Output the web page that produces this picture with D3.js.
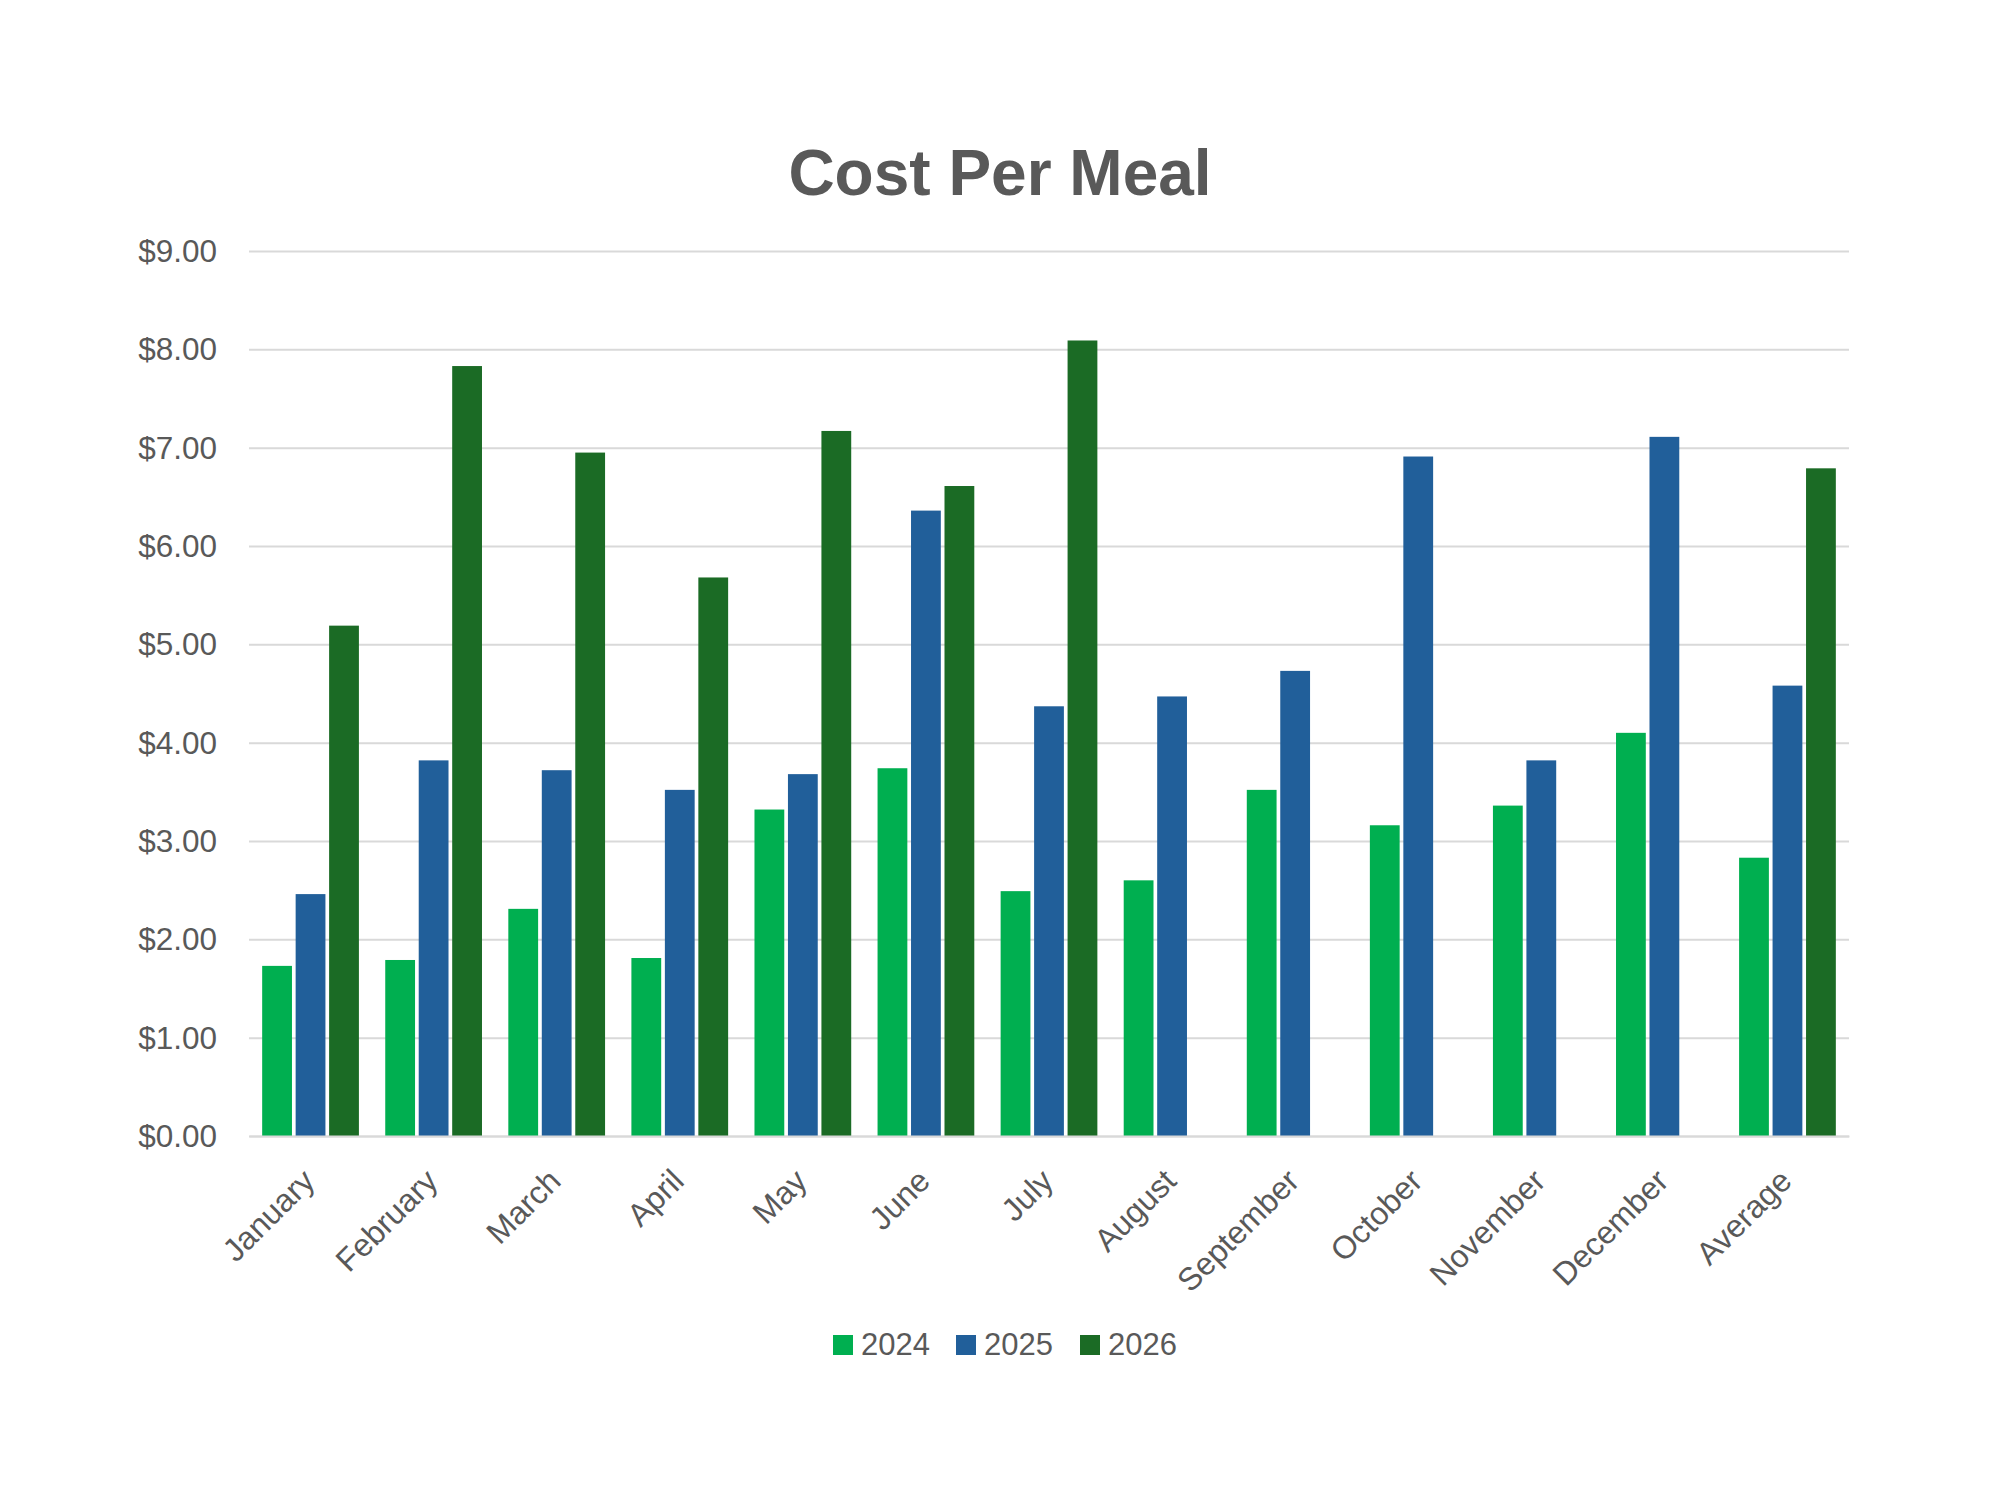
<!DOCTYPE html>
<html>
<head>
<meta charset="utf-8">
<script src="https://cdn.jsdelivr.net/npm/d3@7"></script>
<style>
  body { margin: 0; background: #ffffff; }
  text { font-family: "Liberation Sans", Arial, sans-serif; fill: #595959; }
</style>
</head>
<body>
<div id="chart"></div>
<script>
var months = ["January", "February", "March", "April", "May", "June", "July",
    "August", "September", "October", "November", "December", "Average"];

var years = ["2024", "2025", "2026"];

var cost2024 = [1.73, 1.79, 2.31, 1.81, 3.32, 3.74, 2.49, 2.60, 3.52, 3.16, 3.36, 4.10, 2.83];
var cost2025 = [2.46, 3.82, 3.72, 3.52, 3.68, 6.36, 4.37, 4.47, 4.73, 6.91, 3.82, 7.11, 4.58];
var cost2026 = [5.19, 7.83, 6.95, 5.68, 7.17, 6.61, 8.09, null, null, null, null, null, 6.79];

var yTicks = [0, 1, 2, 3, 4, 5, 6, 7, 8, 9];

var colors = ["#00af50", "#215f9a", "#1b6b25"];

var svgWidth = 2000;
var svgHeight = 1500;

var margin = {
    top: 251,
    right: 151,
    bottom: 364,
    left: 249
}

var width = svgWidth - margin.left - margin.right;
var height = svgHeight - margin.top - margin.bottom;

var svg = d3.select("#chart")
    .append("svg")
    .attr("width", svgWidth)
    .attr("height", svgHeight);

svg.append("rect")
    .attr("width", svgWidth)
    .attr("height", svgHeight)
    .attr("fill", "#ffffff");

var chartGroup = svg.append("g")
    .attr("transform", `translate(${margin.left}, ${margin.top})`);

// one row per month, one value per year
var series = [cost2024, cost2025, cost2026];
var rows = months.map(function(m, i) {
    return years.map(function(y, j) {
        return { month: m, year: y, value: series[j][i] };
    });
});

var x0 = d3.scaleBand()
    .domain(months)
    .range([0, width])
    .paddingInner(0.214)
    .paddingOuter(0.107);

var x1 = d3.scaleBand()
    .domain(years)
    .range([0, x0.bandwidth()])
    .paddingInner(0.11);

var y = d3.scaleLinear()
    .domain([0, 9])
    .range([height, 0]);

var color = d3.scaleOrdinal()
    .domain(years)
    .range(colors);

// gridlines
var yAxis = chartGroup.append("g")
    .call(d3.axisLeft(y)
        .tickValues(yTicks)
        .tickSize(-width)
        .tickPadding(32)
        .tickFormat(d3.format("$.2f")));

yAxis.select(".domain").remove();
yAxis.selectAll(".tick line")
    .attr("stroke", "#d9d9d9")
    .attr("stroke-width", 2);
yAxis.selectAll(".tick text")
    .attr("font-size", "31.5px")
    .attr("fill", "#595959")
    .attr("dy", "0.33em")
    .style("font-family", "'Liberation Sans', Arial, sans-serif");

// bars
var groups = chartGroup.selectAll(".month")
    .data(rows)
    .enter()
    .append("g")
    .attr("class", "month")
    .attr("transform", (d, i) => `translate(${x0(months[i])}, 0)`);

groups.selectAll("rect")
    .data(d => d.filter(v => v.value != null))
    .enter()
    .append("rect")
    .attr("x", d => x1(d.year))
    .attr("y", d => y(d.value))
    .attr("width", x1.bandwidth())
    .attr("height", d => height - y(d.value))
    .attr("fill", d => color(d.year));

// x axis
var xAxis = chartGroup.append("g")
    .attr("transform", `translate(0, ${height})`)
    .call(d3.axisBottom(x0).tickSize(0).tickPadding(0));

xAxis.select(".domain")
    .attr("stroke", "#d9d9d9")
    .attr("stroke-width", 2);

xAxis.selectAll(".tick text")
    .attr("font-size", "32px")
    .attr("fill", "#595959")
    .attr("text-anchor", "end")
    .attr("dy", null)
    .attr("y", 0)
    .attr("transform", "translate(6, 47) rotate(-45)")
    .style("font-family", "'Liberation Sans', Arial, sans-serif");

// title
svg.append("text")
    .attr("x", 1000)
    .attr("y", 195)
    .attr("text-anchor", "middle")
    .attr("font-size", "64px")
    .attr("font-weight", "bold")
    .attr("fill", "#595959")
    .text("Cost Per Meal");

// legend
var legendX = [833, 956, 1080];

var legend = svg.append("g")
    .selectAll("g")
    .data(years)
    .enter()
    .append("g")
    .attr("transform", (d, i) => `translate(${legendX[i]}, 1335)`);

legend.append("rect")
    .attr("width", 20)
    .attr("height", 20)
    .attr("fill", d => color(d));

legend.append("text")
    .attr("x", 28)
    .attr("y", 20)
    .attr("font-size", "31px")
    .attr("fill", "#595959")
    .text(d => d);
</script>
</body>
</html>
